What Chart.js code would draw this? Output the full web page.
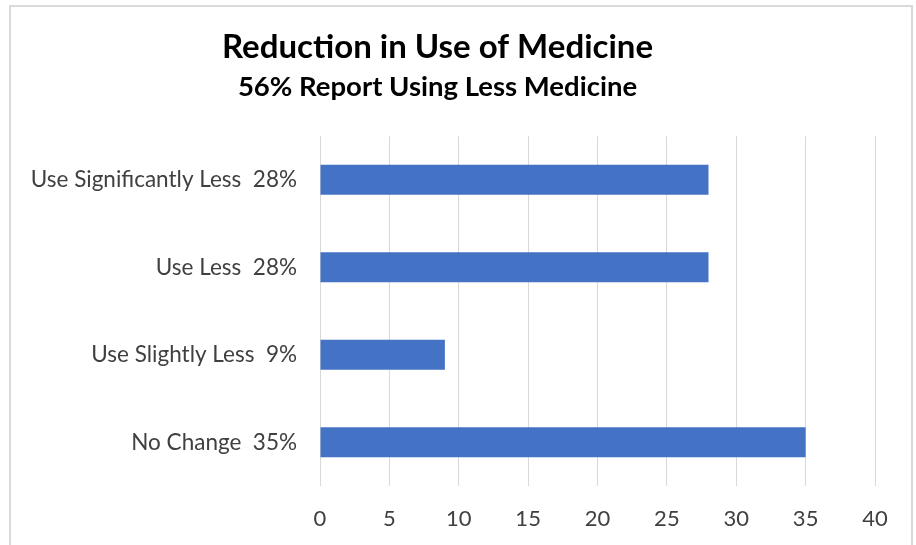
<!DOCTYPE html>
<html>
<head>
<meta charset="utf-8">
<script src="https://cdn.jsdelivr.net/npm/chart.js@4/dist/chart.umd.min.js"></script>
<style>
  html, body { margin: 0; padding: 0; background: #fff; }
  #frame {
    position: absolute; left: 9px; top: 5px; width: 900px; height: 600px;
    border: 2px solid #d9d9d9; border-bottom: none;
  }
  #chart { position: absolute; left: 0; top: 0; }
</style>
</head>
<body>
<div id="frame"></div>
<canvas id="chart" width="916" height="545"></canvas>
<script>
const categories = ['Use Significantly Less  28%', 'Use Less  28%', 'Use Slightly Less  9%', 'No Change  35%'];
const values = [28, 28, 9, 35];
const titleText = 'Reduction in Use of Medicine';
const subtitleText = '56% Report Using Less Medicine';

const fontFamily = 'Lato, "Noto Sans", sans-serif';
const textColor = '#404040';

const ctx = document.getElementById('chart').getContext('2d');

new Chart(ctx, {
    type: 'bar',
    data: {
        labels: categories,
        datasets: [{
            data: values,
            backgroundColor: '#4472c4',
            categoryPercentage: 1,
            barPercentage: 0.343
        }]
    },
    options: {
        indexAxis: 'y',
        responsive: false,
        animation: false,
        layout: { padding: { left: 0, right: 41, top: 0, bottom: 0 } },
        plugins: {
            legend: { display: false },
            tooltip: { enabled: false },
            title: {
                display: true,
                text: titleText,
                color: '#000',
                font: { family: fontFamily, size: 33, weight: 'bold' },
                padding: { top: 28, bottom: 3 }
            },
            subtitle: {
                display: true,
                text: subtitleText,
                color: '#000',
                font: { family: fontFamily, size: 27.5, weight: 'bold' },
                padding: { top: 0, bottom: 32.5 }
            }
        },
        scales: {
            x: {
                min: 0,
                max: 40,
                ticks: {
                    stepSize: 5,
                    color: textColor,
                    padding: 20,
                    font: { family: fontFamily, size: 22 }
                },
                grid: { color: '#d9d9d9', drawTicks: false },
                border: { display: false },
                afterFit: scale => { scale.height = 59; }
            },
            y: {
                ticks: {
                    color: textColor,
                    padding: 23,
                    font: { family: fontFamily, size: 22.5 }
                },
                grid: { display: false, drawTicks: false },
                border: { display: false },
                afterFit: scale => { scale.width = 320; }
            }
        }
    }
});
</script>
</body>
</html>
